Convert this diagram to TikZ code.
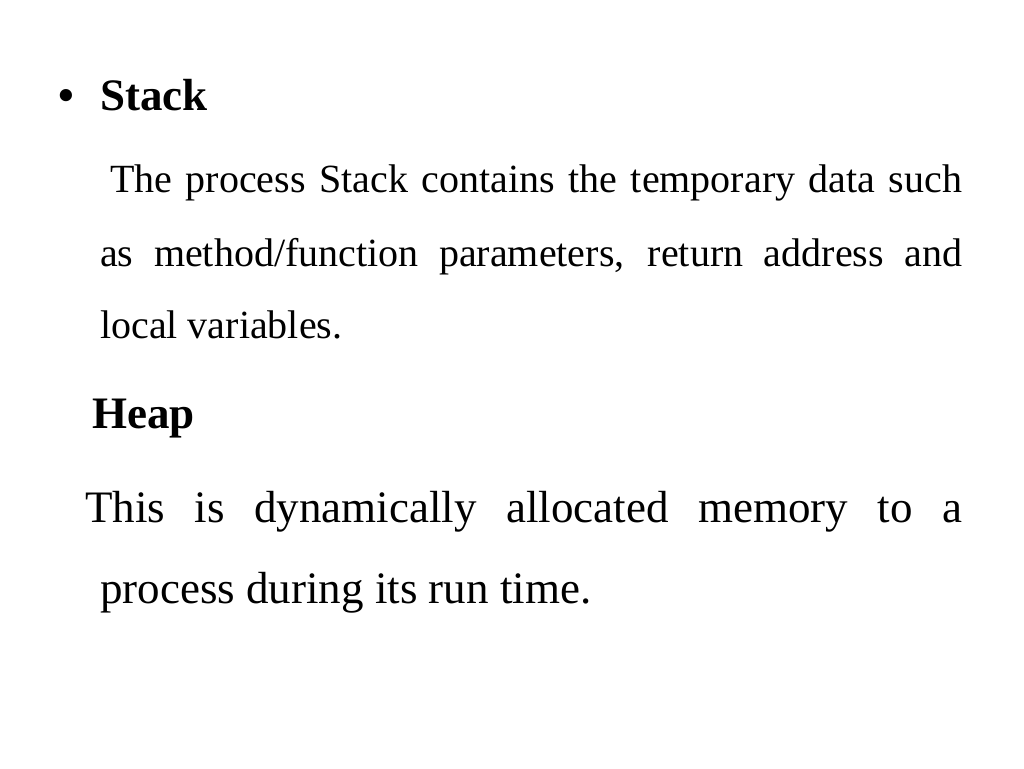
\documentclass[tikz,border=0pt]{standalone}
\usepackage{fontspec}
\setmainfont{Liberation Serif}
\begin{document}
\begin{tikzpicture}[x=1pt,y=-1pt,
  txt/.style={anchor=base west,inner sep=0pt,font=\fontsize{40}{48}\selectfont},
  big/.style={anchor=base west,inner sep=0pt,font=\fontsize{45}{54}\selectfont},
  head/.style={anchor=base west,inner sep=0pt,font=\fontsize{45}{54}\selectfont\bfseries}]
\useasboundingbox (0,0) rectangle (1024,768);
\node[head] (bul) at (58,110) {\textbullet};
\node[head] (h1) at (100,110) {Stack};
\node[txt] (l1) at (110,192) {\makebox[852pt][s]{The process Stack contains the temporary data such}};
\node[txt] (l2) at (100,266) {\makebox[862pt][s]{as method/function parameters, return address and}};
\node[txt] (l3) at (100,338) {local variables.};
\node[head] (h2) at (92,428) {Heap};
\node[big] (l4) at (85,522) {\makebox[877pt][s]{This is dynamically allocated memory to a}};
\node[big] (l5) at (100,603) {process during its run time.};
\end{tikzpicture}
\end{document}
